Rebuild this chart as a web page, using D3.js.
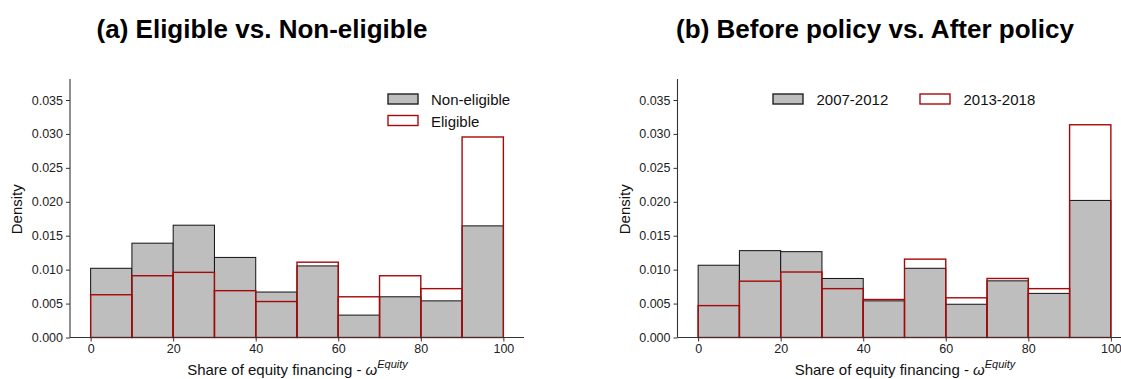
<!DOCTYPE html>
<html>
<head>
<meta charset="utf-8">
<script src="https://cdn.jsdelivr.net/npm/d3@7"></script>
<style>
  html, body { margin: 0; padding: 0; background: #fff; }
  svg { display: block; font-family: "Liberation Sans", Arial, sans-serif; }
</style>
</head>
<body>
<svg id="chart" width="1121" height="379"></svg>
<script>
// Histogram bins: share of equity financing (%), width 10
const binStarts = [0, 10, 20, 30, 40, 50, 60, 70, 80, 90];
const binWidth = 10;

// Panel (a) densities
const nonEligible = [0.0102, 0.0139, 0.01655, 0.0118, 0.0067, 0.01055, 0.0033, 0.0060, 0.0054, 0.01645];
const eligible    = [0.0063, 0.0091, 0.0096, 0.0069, 0.0053, 0.0111, 0.0060, 0.0091, 0.0072, 0.02955];

// Panel (b) densities
const period1 = [0.01065, 0.0128, 0.01265, 0.0087, 0.0054, 0.0102, 0.0049, 0.00835, 0.0065, 0.0202];
const period2 = [0.0047, 0.0083, 0.00965, 0.0072, 0.0056, 0.01155, 0.00585, 0.0087, 0.0072, 0.03135];

const yTicks = [0, 0.005, 0.010, 0.015, 0.020, 0.025, 0.030, 0.035];
const xTicks = [0, 20, 40, 60, 80, 100];

const panels = [
  { title: "(a) Eligible vs. Non-eligible", left: 70, titleX: 262,
    filled: nonEligible, hollow: eligible,
    legend: { labels: ["Non-eligible", "Eligible"], layout: "vertical", x: 388, y: 94 } },
  { title: "(b) Before policy vs. After policy", left: 677.5, titleX: 875,
    filled: period1, hollow: period2,
    legend: { labels: ["2007-2012", "2013-2018"], layout: "horizontal", x: 773, y: 94 } }
];

const GRAY = "#bebebe";
const RED = "#a50a0a";
const AXIS = "#333";

const svg = d3.select("#chart");

panels.forEach(p => {
  const g = svg.append("g");
  const x = d3.scaleLinear().domain([-5, 105]).range([p.left, p.left + 454]);
  const y = d3.scaleLinear().domain([0, 0.035]).range([337.5, 100]);
  const yTop = 79;

  // title
  g.append("text")
    .attr("x", p.titleX).attr("y", 38)
    .attr("text-anchor", "middle")
    .attr("font-size", 26).attr("font-weight", "bold")
    .attr("fill", "#000")
    .text(p.title);

  // filled bars
  g.append("g").selectAll("rect")
    .data(binStarts.map((b, i) => ({ b, v: p.filled[i] })))
    .join("rect")
    .attr("x", d => x(d.b))
    .attr("width", d => x(d.b + binWidth) - x(d.b))
    .attr("y", d => y(d.v))
    .attr("height", d => y(0) - y(d.v))
    .attr("fill", GRAY)
    .attr("stroke", "#111")
    .attr("stroke-width", 1);

  // hollow bars
  g.append("g").selectAll("rect")
    .data(binStarts.map((b, i) => ({ b, v: p.hollow[i] })))
    .join("rect")
    .attr("x", d => x(d.b))
    .attr("width", d => x(d.b + binWidth) - x(d.b))
    .attr("y", d => y(d.v))
    .attr("height", d => y(0) - y(d.v))
    .attr("fill", "none")
    .attr("stroke", RED)
    .attr("stroke-width", 1.4);

  // y axis
  const yAxis = g.append("g")
    .attr("transform", `translate(${p.left},0)`)
    .call(d3.axisLeft(y).tickValues(yTicks).tickFormat(d3.format(".3f")).tickSize(4).tickPadding(3));
  yAxis.select(".domain").remove();
  yAxis.append("line")
    .attr("x1", 0).attr("x2", 0).attr("y1", yTop).attr("y2", y(0))
    .attr("stroke", AXIS).attr("stroke-width", 1.1);
  yAxis.selectAll(".tick line").attr("stroke", AXIS);
  yAxis.selectAll(".tick text").attr("font-size", 12.5).attr("fill", "#222")
    .attr("font-family", "Liberation Sans, Arial, sans-serif");

  // x axis
  const xAxis = g.append("g")
    .attr("transform", `translate(0,${y(0)})`)
    .call(d3.axisBottom(x).tickValues(xTicks).tickSize(4).tickPadding(3));
  xAxis.select(".domain").remove();
  xAxis.append("line")
    .attr("x1", x.range()[0]).attr("x2", x.range()[1]).attr("y1", 0).attr("y2", 0)
    .attr("stroke", AXIS).attr("stroke-width", 1.1);
  xAxis.selectAll(".tick line").attr("stroke", AXIS);
  xAxis.selectAll(".tick text").attr("font-size", 12.5).attr("fill", "#222")
    .attr("font-family", "Liberation Sans, Arial, sans-serif");

  // axis titles
  g.append("text")
    .attr("transform", `translate(${p.left - 48},${(yTop + y(0)) / 2 + 1}) rotate(-90)`)
    .attr("text-anchor", "middle")
    .attr("font-size", 15).attr("fill", "#111")
    .text("Density");

  const xt = g.append("text")
    .attr("x", x(50) + 0.5).attr("y", 375)
    .attr("text-anchor", "middle")
    .attr("font-size", 15).attr("fill", "#111");
  xt.append("tspan").text("Share of equity financing - ");
  xt.append("tspan").attr("font-style", "italic").text("ω");
  xt.append("tspan").attr("font-style", "italic").attr("font-size", 11).attr("dy", -7).text("Equity");

  // legend
  const lg = g.append("g");
  p.legend.labels.forEach((lab, i) => {
    let sx, sy, tx;
    if (p.legend.layout === "vertical") {
      sx = p.legend.x; sy = p.legend.y + i * 21.5; tx = sx + 43;
    } else {
      sx = p.legend.x + i * 147; sy = p.legend.y; tx = sx + 43.5;
    }
    lg.append("rect")
      .attr("x", sx).attr("y", sy).attr("width", 30).attr("height", 10)
      .attr("fill", i === 0 ? GRAY : "#fff")
      .attr("stroke", i === 0 ? "#222" : RED)
      .attr("stroke-width", 1.4);
    lg.append("text")
      .attr("x", tx).attr("y", sy + 11)
      .attr("font-size", 15).attr("fill", "#111")
      .text(lab);
  });
});
</script>
</body>
</html>
